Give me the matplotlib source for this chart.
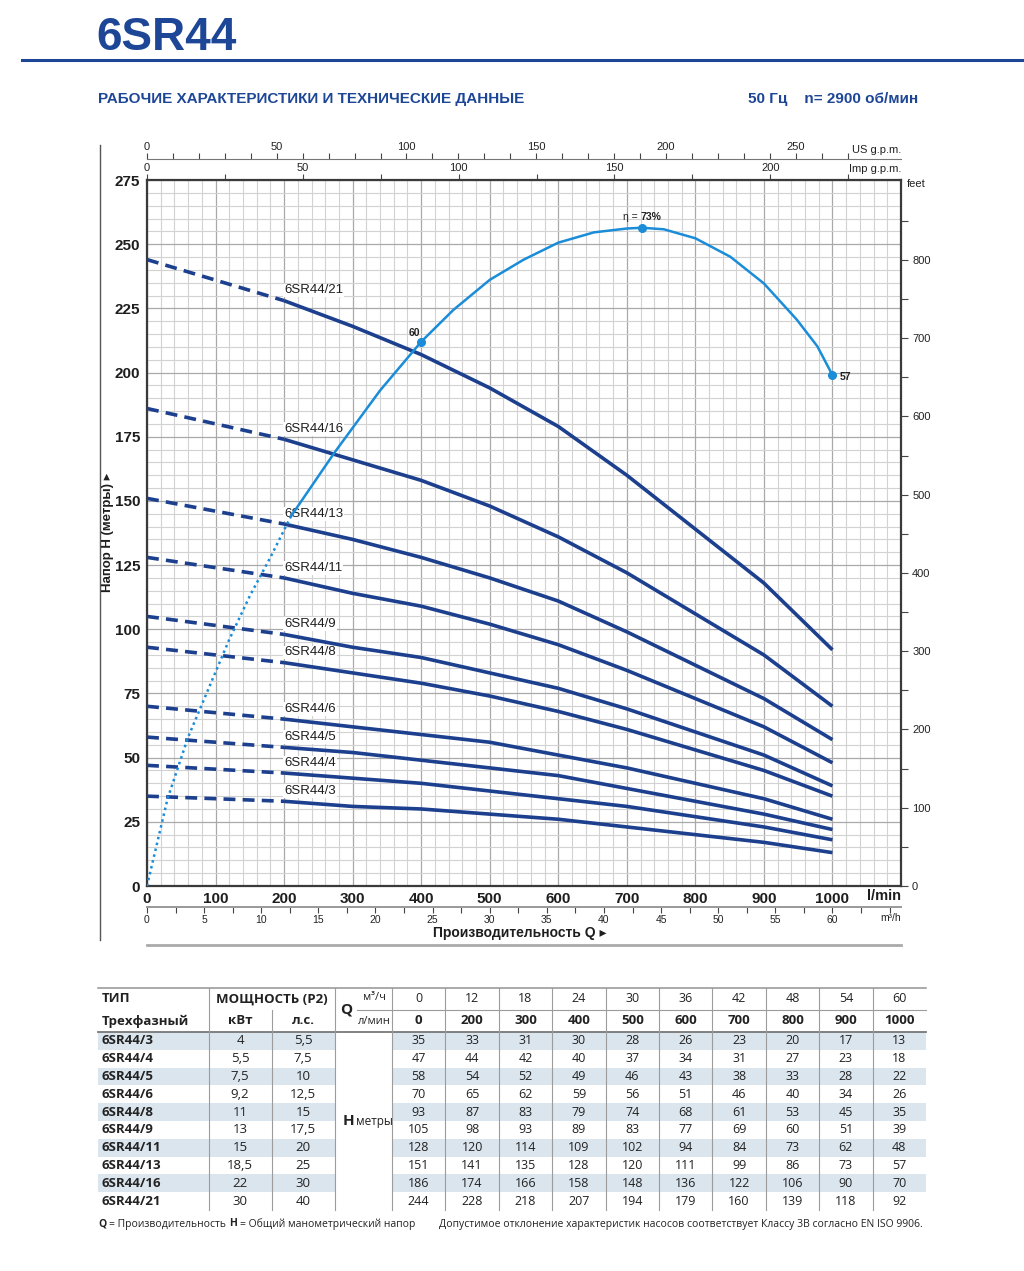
"""Pump performance chart 6SR44 with data table."""

import numpy as np
import matplotlib

matplotlib.use("Agg")
import matplotlib.pyplot as plt
from matplotlib.lines import Line2D
from matplotlib.patches import Rectangle

W, H = 1024, 1271

SANS = ["Liberation Sans", "DejaVu Sans"]
TABLE = ["Open Sans", "DejaVu Sans"]

BLUE = "#1d4696"
CURVE = "#1c3f8e"
EFF = "#1a8cd8"
SHADE = "#dbe5ee"

# --- data -------------------------------------------------------------
models = ["6SR44/3", "6SR44/4", "6SR44/5", "6SR44/6", "6SR44/8",
          "6SR44/9", "6SR44/11", "6SR44/13", "6SR44/16", "6SR44/21"]
power_kw = ["4", "5,5", "7,5", "9,2", "11", "13", "15", "18,5", "22", "30"]
power_hp = ["5,5", "7,5", "10", "12,5", "15", "17,5", "20", "25", "30", "40"]
q_m3h = [0, 12, 18, 24, 30, 36, 42, 48, 54, 60]
q_lmin = [0, 200, 300, 400, 500, 600, 700, 800, 900, 1000]

h_3 = [35, 33, 31, 30, 28, 26, 23, 20, 17, 13]
h_4 = [47, 44, 42, 40, 37, 34, 31, 27, 23, 18]
h_5 = [58, 54, 52, 49, 46, 43, 38, 33, 28, 22]
h_6 = [70, 65, 62, 59, 56, 51, 46, 40, 34, 26]
h_8 = [93, 87, 83, 79, 74, 68, 61, 53, 45, 35]
h_9 = [105, 98, 93, 89, 83, 77, 69, 60, 51, 39]
h_11 = [128, 120, 114, 109, 102, 94, 84, 73, 62, 48]
h_13 = [151, 141, 135, 128, 120, 111, 99, 86, 73, 57]
h_16 = [186, 174, 166, 158, 148, 136, 122, 106, 90, 70]
h_21 = [244, 228, 218, 207, 194, 179, 160, 139, 118, 92]
head_m = [h_3, h_4, h_5, h_6, h_8, h_9, h_11, h_13, h_16, h_21]

# efficiency curve, drawn on the head scale
eff_q = [0, 30, 60, 90, 120, 150, 180, 210, 274, 340, 400, 447, 500,
         549, 600, 652, 700, 722, 754, 800, 851, 900, 948, 978, 1000]
eff_h = [0, 34, 58, 77, 96, 113, 128, 144, 169, 193, 212, 224.4, 236.1,
         243.9, 250.6, 254.6, 256.1, 256.4, 255.8, 252.3, 245.1, 234.7,
         220.6, 210.2, 199]
eff_dotted_until = 210
eff_pt_q = [400, 722, 1000]
eff_pt_h = [212, 256.4, 199]

LMIN_PER_USGPM = 3.78541
LMIN_PER_IMPGPM = 4.54609
LMIN_PER_M3H = 1000 / 60
M_PER_FT = 0.3048


def fx(p):
    return p / W


def fy(p):
    return 1 - p / H


def hline(fig, x0, x1, y, color, lw):
    fig.add_artist(Line2D([fx(x0), fx(x1)], [fy(y), fy(y)],
                          transform=fig.transFigure, color=color, lw=lw))


def vline(fig, x, y0, y1, color, lw):
    fig.add_artist(Line2D([fx(x), fx(x)], [fy(y0), fy(y1)],
                          transform=fig.transFigure, color=color, lw=lw))


fig = plt.figure(figsize=(W / 100, H / 100), dpi=100)

# --- header -----------------------------------------------------------
fig.text(fx(96), fy(38), "6SR44", family=SANS, weight="bold", size=33,
         color=BLUE, va="center", ha="left")
hline(fig, 22, 1024, 60, BLUE, 2.2)
fig.text(fx(98), fy(99), "РАБОЧИЕ ХАРАКТЕРИСТИКИ И ТЕХНИЧЕСКИЕ ДАННЫЕ",
         family=SANS, weight="bold", size=11, color=BLUE, va="center")
fig.text(fx(918), fy(99), "50 Гц    n= 2900 об/мин", family=SANS,
         weight="bold", size=11, color=BLUE, va="center", ha="right")

# --- chart ------------------------------------------------------------
ax = fig.add_axes([fx(147), fy(886), fx(901) - fx(147), fy(180) - fy(886)])
ax.set_xlim(0, 1100)
ax.set_ylim(0, 275)

ax.set_xticks(np.arange(0, 1101, 100))
ax.set_xticklabels([str(v) for v in range(0, 1001, 100)] + [""])
ax.set_xticks(np.arange(0, 1101, 20), minor=True)
ax.set_yticks(np.arange(0, 276, 25))
ax.set_yticks(np.arange(0, 276, 5), minor=True)
ax.tick_params(which="both", length=0)
ax.tick_params(axis="x", pad=4)
ax.tick_params(axis="y", pad=5)
for lab in ax.get_xticklabels() + ax.get_yticklabels():
    lab.set_family(SANS)
    lab.set_weight("bold")
    lab.set_size(11)
    lab.set_color("#1e1e1e")
ax.grid(which="minor", color="#d2d2d2", lw=0.8)
ax.grid(which="major", color="#a9a9a9", lw=0.9)
ax.set_axisbelow(True)
for sp in ax.spines.values():
    sp.set_color("#3a3a3a")
    sp.set_linewidth(1.6)

ax.text(1.0, -0.014, "l/min", transform=ax.transAxes, ha="right",
        va="center", family=SANS, weight="bold", size=10.5, color="#1e1e1e")

# pump curves
for name, h in zip(models, head_m):
    ax.plot(q_lmin[:2], h[:2], color=CURVE, lw=2.6, dashes=(3.3, 2.0),
            dash_capstyle="butt", zorder=3)
    ax.plot(q_lmin[1:], h[1:], color=CURVE, lw=2.6,
            solid_capstyle="butt", solid_joinstyle="round", zorder=3)
    ax.annotate(name, (q_lmin[1], h[1]), xytext=(0, 3),
                textcoords="offset points", ha="left", va="bottom",
                family=SANS, size=9.5, color="#1e1e1e", zorder=4,
                bbox=dict(facecolor="white", edgecolor="none", pad=0.6))

# efficiency curve
k = eff_q.index(eff_dotted_until)
ax.plot(eff_q[:k + 1], eff_h[:k + 1], color=EFF, lw=1.8,
        linestyle=(0, (1, 1.4)), zorder=5)
ax.plot(eff_q[k:], eff_h[k:], color=EFF, lw=1.8, zorder=5,
        solid_joinstyle="round")
ax.plot(eff_pt_q, eff_pt_h, "o", color=EFF, ms=5.5, zorder=6)
ax.annotate("60", (eff_pt_q[0], eff_pt_h[0]), xytext=(-1, 3),
            textcoords="offset points", ha="right", va="bottom",
            family=SANS, weight="bold", size=7.5, color="#222")
ax.annotate("η = ", (eff_pt_q[1], eff_pt_h[1]), xytext=(-1, 4),
            textcoords="offset points", ha="right", va="bottom",
            family=SANS, size=7.5, color="#222")
ax.annotate("73%", (eff_pt_q[1], eff_pt_h[1]), xytext=(-1, 4),
            textcoords="offset points", ha="left", va="bottom",
            family=SANS, weight="bold", size=7.5, color="#222")
ax.annotate("57", (eff_pt_q[2], eff_pt_h[2]), xytext=(5, -1),
            textcoords="offset points", ha="left", va="center",
            family=SANS, weight="bold", size=7.5, color="#222")

# feet axis on the right
ft = ax.twinx()
ft.set_ylim(0, 275 / M_PER_FT)
ft.set_yticks(np.arange(0, 801, 100))
ft.set_yticks(np.arange(0, 851, 50), minor=True)
ft.tick_params(which="both", direction="out", length=5, width=0.8,
               color="#444", labelsize=8, pad=3, labelcolor="#222")
for lab in ft.get_yticklabels():
    lab.set_family(SANS)
for sp in ft.spines.values():
    sp.set_visible(False)
ax.text(1.008, 0.995, "feet", transform=ax.transAxes, ha="left",
        va="center", family=SANS, size=8, color="#222")

# Imp g.p.m. on the top spine
imp = ax.secondary_xaxis("top", functions=(lambda x: x / LMIN_PER_IMPGPM,
                                           lambda x: x * LMIN_PER_IMPGPM))
imp.set_xticks(np.arange(0, 201, 50))
imp.set_xticks(np.arange(0, 226, 25), minor=True)
imp.tick_params(which="both", direction="out", length=4, width=0.8,
                color="#444", labelsize=8, pad=1, labelcolor="#222")
for lab in imp.get_xticklabels():
    lab.set_family(SANS)
imp.spines["top"].set_visible(False)
ax.text(1.0, 1.015, "Imp g.p.m.", transform=ax.transAxes, ha="right",
        va="center", family=SANS, size=8, color="#222")

# US g.p.m. above
us = ax.secondary_xaxis(1.0297, functions=(lambda x: x / LMIN_PER_USGPM,
                                           lambda x: x * LMIN_PER_USGPM))
us.set_xticks(np.arange(0, 251, 50))
us.set_xticks(np.arange(0, 271, 10), minor=True)
us.tick_params(which="both", direction="out", length=4, width=0.8,
               color="#444", labelsize=8, pad=1, labelcolor="#222")
for lab in us.get_xticklabels():
    lab.set_family(SANS)
for sp in us.spines.values():
    sp.set_color("#777")
    sp.set_linewidth(0.8)
ax.text(1.0, 1.043, "US g.p.m.", transform=ax.transAxes, ha="right",
        va="center", family=SANS, size=8, color="#222")

# m3/h below
m3 = ax.secondary_xaxis(-0.0297, functions=(lambda x: x / LMIN_PER_M3H,
                                            lambda x: x * LMIN_PER_M3H))
m3.set_xticks(np.arange(0, 61, 5))
m3.set_xticks(np.arange(0, 66, 2.5), minor=True)
m3.tick_params(which="both", direction="out", length=4, width=0.8,
               color="#444", labelsize=7.5, pad=2, labelcolor="#222")
for lab in m3.get_xticklabels():
    lab.set_family(SANS)
for sp in m3.spines.values():
    sp.set_color("#999")
    sp.set_linewidth(1.4)
ax.text(1.0, -0.045, "m³/h", transform=ax.transAxes, ha="right",
        va="center", family=SANS, size=7.5, color="#222")

fig.text(fx(520), fy(933), "Производительность Q ▸", family=SANS,
         weight="bold", size=10, color="#1e1e1e", ha="center", va="center")
fig.text(fx(108), fy(532), "Напор H (метры) ▸", family=SANS,
         weight="bold", size=9.5, color="#1e1e1e", ha="center", va="center",
         rotation=90)
hline(fig, 147, 901, 945, "#aaaaaa", 2.0)
vline(fig, 100, 145, 940, "#555555", 1.0)

# --- table ------------------------------------------------------------
col_data = [392 + 53.4 * i for i in range(11)]
row_top = 1032
row_h = 17.8
grid_c = "#9c9c9c"

for i in range(len(models)):
    if i % 2 == 0:
        y0 = row_top + row_h * i
        for a, b in ((98, 335), (392, 926)):
            fig.add_artist(Rectangle((fx(a), fy(y0 + row_h)), fx(b) - fx(a),
                                     row_h / H, transform=fig.transFigure,
                                     facecolor=SHADE, edgecolor="none"))

hline(fig, 98, 926, 988, grid_c, 1.2)
hline(fig, 98, 926, 1032, "#777777", 1.3)
hline(fig, 357, 926, 1010, grid_c, 0.8)
for x in [209, 335] + col_data[:-1]:
    vline(fig, x, 988, row_top + row_h * len(models), grid_c, 0.8)
vline(fig, 272, 1010, row_top + row_h * len(models), grid_c, 0.8)

tk = dict(family=TABLE, color="#222", va="center")
fig.text(fx(102), fy(999), "ТИП", weight="bold", size=9.5, **tk)
fig.text(fx(102), fy(1021), "Трехфазный", weight="bold", size=9.5, **tk)
fig.text(fx(272), fy(999), "МОЩНОСТЬ (P2)", weight="bold", size=9.5,
         ha="center", **tk)
fig.text(fx(240), fy(1021), "кВт", weight="bold", size=9.5, ha="center", **tk)
fig.text(fx(303), fy(1021), "л.с.", weight="bold", size=9.5, ha="center", **tk)
fig.text(fx(346), fy(1010), "Q", weight="bold", size=11, ha="center", **tk)
fig.text(fx(374), fy(998), "м³/ч", size=8, ha="center", **tk)
fig.text(fx(374), fy(1021), "л/мин", size=8, ha="center", **tk)
mid_y = row_top + row_h * len(models) / 2
fig.text(fx(348), fy(mid_y), "H", weight="bold", size=11, ha="center", **tk)
fig.text(fx(356), fy(mid_y + 1), "метры", size=8.5, ha="left", **tk)

for j in range(len(q_m3h)):
    cx = (col_data[j] + col_data[j + 1]) / 2
    fig.text(fx(cx), fy(999), str(q_m3h[j]), size=9, ha="center", **tk)
    fig.text(fx(cx), fy(1021), str(q_lmin[j]), weight="bold", size=9.5,
             ha="center", **tk)

for i, (name, kw, hp, h) in enumerate(zip(models, power_kw, power_hp, head_m)):
    cy = row_top + row_h * (i + 0.5)
    fig.text(fx(102), fy(cy), name, weight="bold", size=9.5, **tk)
    fig.text(fx(240), fy(cy), kw, size=9.5, ha="center", **tk)
    fig.text(fx(303), fy(cy), hp, size=9.5, ha="center", **tk)
    for j, v in enumerate(h):
        cx = (col_data[j] + col_data[j + 1]) / 2
        fig.text(fx(cx), fy(cy), str(v), size=9, ha="center", **tk)

ft_kw = dict(family=TABLE, color="#222", va="center", size=7.5)
fig.text(fx(98), fy(1224), "Q", weight="bold", **ft_kw)
fig.text(fx(109), fy(1224), "= Производительность", **ft_kw)
fig.text(fx(229), fy(1224), "H", weight="bold", **ft_kw)
fig.text(fx(240), fy(1224), "= Общий манометрический напор", **ft_kw)
fig.text(fx(923), fy(1224),
         "Допустимое отклонение характеристик насосов соответствует "
         "Классу 3B согласно EN ISO 9906.", ha="right", **ft_kw)

fig.savefig("out.png", dpi=100)
